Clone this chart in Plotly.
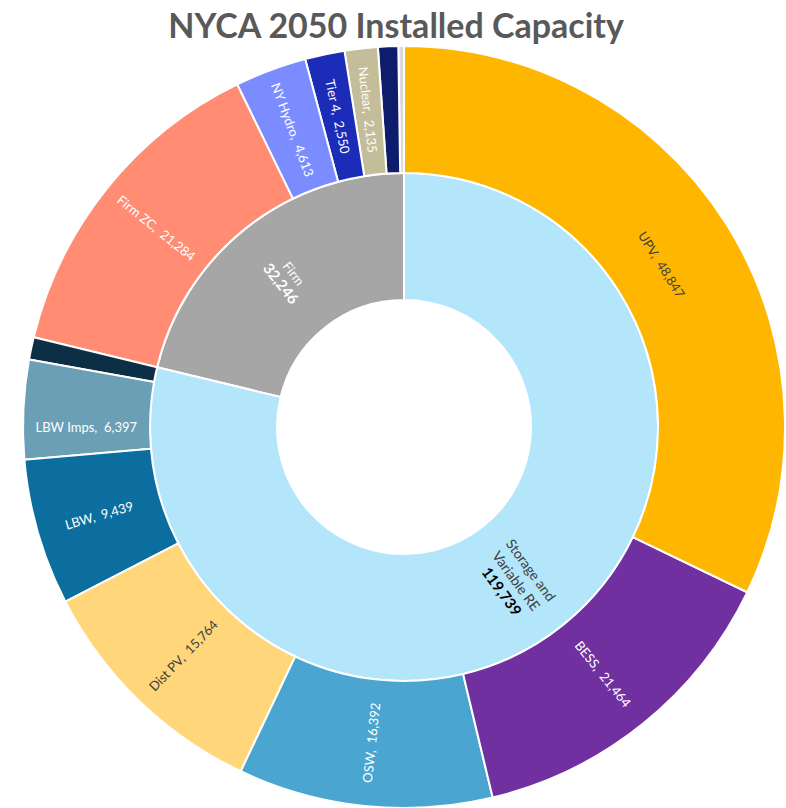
import math
import plotly.graph_objects as go

# Capacity groups (inner ring) and resources (outer ring), MW
groups = ["Firm", "Storage and Variable RE"]
group_values = [32246, 119739]
group_colors = ["#A6A6A6", "#B3E5FB"]

firm_names = ["Firm Other", "Firm Navy", "Nuclear", "Tier 4", "NY Hydro", "Firm ZC"]
firm_values = [364, 1300, 2135, 2550, 4613, 21284]
firm_colors = ["#D9D9D9", "#0E1D6B", "#C4BD99", "#1B2DB8", "#7B8CFF", "#FF8C73"]
firm_labeled = [False, False, True, True, True, True]

var_names = ["Var Other", "LBW Imps", "LBW", "Dist PV", "OSW", "BESS", "UPV"]
var_values = [1436, 6397, 9439, 15764, 16392, 21464, 48847]
var_colors = ["#0D2F45", "#6A9FB5", "#0B6E9E", "#FFD679", "#4AA5D0", "#7030A0", "#FFB600"]
var_labeled = [False, True, True, True, True, True, True]

dark_text = {"Dist PV", "UPV"}
# labels drawn as rotated annotations instead of sector text
annotated = {"UPV", "Var"}

W, H = 786, 808
M_L, M_R, M_T, M_B = 22, 0, 46, 0
FONT = "Lato"

ids, labels, parents, values, colors, texts, tcolors = [], [], [], [], [], [], []

# white root forms the hole in the middle
total = sum(group_values)
ids.append("root"); labels.append(""); parents.append(""); values.append(total)
colors.append("#FFFFFF"); texts.append(""); tcolors.append("#FFFFFF")

ids.append("Firm"); labels.append("Firm"); parents.append("root"); values.append(group_values[0])
colors.append(group_colors[0])
texts.append("Firm<br><b><span style='font-size:15px'>%s</span></b>" % f"{group_values[0]:,}")
tcolors.append("#FFFFFF")
ids.append("Var"); labels.append("Storage and Variable RE"); parents.append("root"); values.append(group_values[1])
colors.append(group_colors[1]); texts.append(""); tcolors.append("#404040")

for n, v, c, lab in zip(firm_names, firm_values, firm_colors, firm_labeled):
    ids.append(n); labels.append(n); parents.append("Firm"); values.append(v); colors.append(c)
    texts.append(f"{n},\u00a0 {v:,}" if lab and n not in annotated else "")
    tcolors.append("#404040" if n in dark_text else "#FFFFFF")

for n, v, c, lab in zip(var_names, var_values, var_colors, var_labeled):
    ids.append(n); labels.append(n); parents.append("Var"); values.append(v); colors.append(c)
    texts.append(f"{n},\u00a0 {v:,}" if lab and n not in annotated else "")
    tcolors.append("#404040" if n in dark_text else "#FFFFFF")

fig = go.Figure(go.Sunburst(
    ids=ids, labels=labels, parents=parents, values=values,
    branchvalues="total", sort=False, rotation=90,
    text=texts, texttemplate="%{text}",
    insidetextorientation="radial",
    textfont=dict(family=FONT, size=13, color=tcolors),
    marker=dict(colors=colors, line=dict(color="#FFFFFF", width=2)),
    leaf=dict(opacity=1),
    hoverinfo="label+value",
))

# geometry of the sunburst inside the plot area (pixels)
pw, ph = W - M_L - M_R, H - M_T - M_B
cx, cy = M_L + pw / 2, M_T + ph / 2
R = min(pw, ph) / 2


def to_paper(r, theta_deg):
    """Point at radius r (px) and angle theta (deg clockwise from 12 o'clock)."""
    t = math.radians(theta_deg)
    px = cx + r * math.sin(t)
    py = cy - r * math.cos(t)
    return (px - M_L) / pw, (H - M_B - py) / ph


# angles measured clockwise from the top: Storage group runs clockwise from 12 o'clock,
# with UPV as its first (clockwise) member
var_total = group_values[1]
upv_val = var_values[var_names.index("UPV")]
upv_mid = 360 * (upv_val / 2) / total
var_mid = 360 * (var_total / 2) / total

x_u, y_u = to_paper(R * 0.8, upv_mid)
x_v, y_v = to_paper(R * 0.5, var_mid + 2)

fig.add_annotation(
    x=x_u, y=y_u, xref="paper", yref="paper", xanchor="center", yanchor="middle",
    text=f"UPV,\u00a0 {upv_val:,}", showarrow=False, textangle=upv_mid,
    font=dict(family=FONT, size=13, color="#404040"),
)
fig.add_annotation(
    x=x_v, y=y_v, xref="paper", yref="paper", xanchor="center", yanchor="middle",
    text=(f"Storage and<br>Variable RE<br>"
          f"<b><span style='color:#000000;font-size:15px'>{var_total:,}</span></b>"),
    showarrow=False, textangle=var_mid - 88, align="center",
    font=dict(family=FONT, size=14, color="#404040"),
)

fig.update_layout(
    width=W, height=H,
    margin=dict(l=M_L, r=M_R, t=M_T, b=M_B),
    paper_bgcolor="#FFFFFF",
    title=dict(text="<b>NYCA 2050 Installed Capacity</b>", x=0.504, xanchor="center",
               y=1 - 26 / H, yanchor="middle",
               font=dict(family=FONT, size=34, color="#595959")),
)

fig.write_html("out.html")
